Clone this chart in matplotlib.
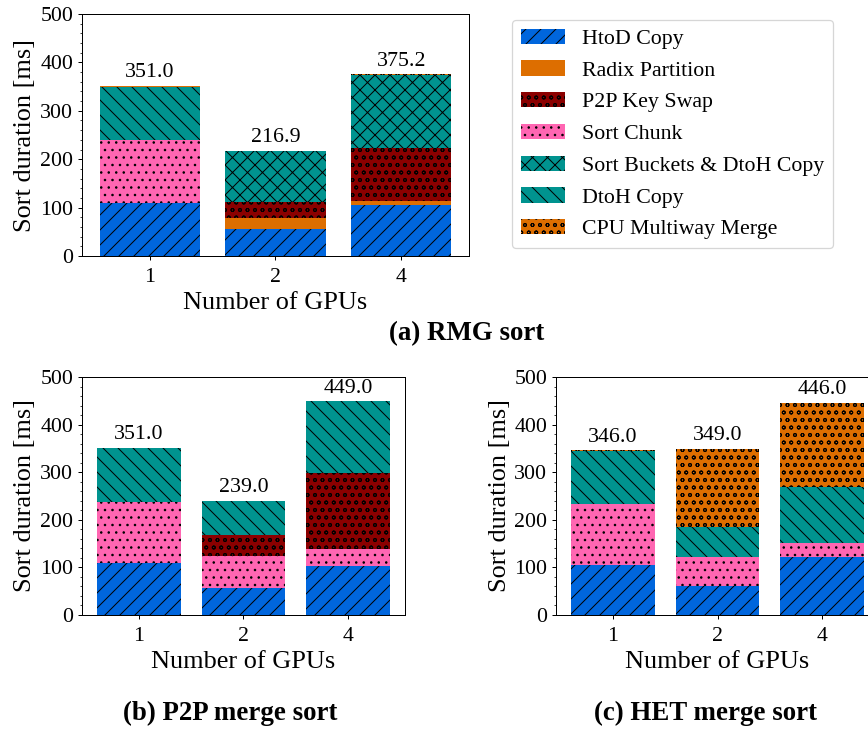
import matplotlib
matplotlib.use("Agg")
import matplotlib.pyplot as plt
from matplotlib.ticker import MultipleLocator
from matplotlib.patches import Patch
import numpy as np

plt.rcParams['font.family'] = ['Liberation Serif', 'DejaVu Serif']
plt.rcParams['hatch.linewidth'] = 0.8

gpus = ['1', '2', '4']

# series names (legend order)
names = ['HtoD Copy', 'Radix Partition', 'P2P Key Swap', 'Sort Chunk',
         'Sort Buckets & DtoH Copy', 'DtoH Copy', 'CPU Multiway Merge']

# (a) RMG sort
rmg_htod = [109, 55, 105]
rmg_radix = [0, 23, 9.5]
rmg_p2p = [0, 34.5, 109.5]
rmg_chunk = [130, 0, 0]
rmg_buckets = [0, 103.5, 150.5]
rmg_dtoh = [110.5, 0, 0]
rmg_cpu = [1.5, 0.9, 0.7]

# (b) P2P merge sort
p2p_htod = [110, 56, 102]
p2p_chunk = [128, 67, 36]
p2p_p2p = [0, 45, 160]
p2p_dtoh = [113, 71, 151]

# (c) HET merge sort
het_htod = [106, 60, 121]
het_chunk = [128, 62, 31]
het_dtoh = [109.5, 63, 117]
het_cpu = [2.5, 164, 177]

styles = {
    'HtoD Copy': ('#0066DD', '//'),
    'Radix Partition': ('#DD6E00', ''),
    'P2P Key Swap': ('#8B0000', 'oo'),
    'Sort Chunk': ('#FF66B2', '..'),
    'Sort Buckets & DtoH Copy': ('#00938F', 'xx'),
    'DtoH Copy': ('#00938F', '\\\\'),
    'CPU Multiway Merge': ('#DD6E00', 'oo'),
}

W, H = 868, 729
DPI = 90
fig = plt.figure(figsize=(W / DPI, H / DPI), dpi=DPI)

def pos(l, t, r, b):
    return [l / W, 1 - b / H, (r - l) / W, (b - t) / H]

ax_a = fig.add_axes(pos(82, 14, 469, 256))
ax_b = fig.add_axes(pos(82, 377, 405, 615))
ax_c = fig.add_axes(pos(556, 377, 879, 615))

panels = [
    (ax_a, [('HtoD Copy', rmg_htod), ('Radix Partition', rmg_radix),
            ('P2P Key Swap', rmg_p2p), ('Sort Chunk', rmg_chunk),
            ('Sort Buckets & DtoH Copy', rmg_buckets), ('DtoH Copy', rmg_dtoh),
            ('CPU Multiway Merge', rmg_cpu)]),
    (ax_b, [('HtoD Copy', p2p_htod), ('Sort Chunk', p2p_chunk),
            ('P2P Key Swap', p2p_p2p), ('DtoH Copy', p2p_dtoh)]),
    (ax_c, [('HtoD Copy', het_htod), ('Sort Chunk', het_chunk),
            ('DtoH Copy', het_dtoh), ('CPU Multiway Merge', het_cpu)]),
]

FS_TICK = 17.5
FS_BAR = 17.5
FS_LABEL = 21
FS_LEG = 17.5
FS_CAP = 21.5

for ax, segs in panels:
    x = np.arange(len(gpus))
    bottom = np.zeros(len(gpus))
    for name, vals in segs:
        c, h = styles[name]
        v = np.array(vals, dtype=float)
        ax.bar(x, v, 0.8, bottom=bottom, color=c, hatch=h,
               edgecolor='black', linewidth=0)
        bottom += v
    for xi, tot in zip(x, bottom):
        ax.annotate(f'{tot:.1f}', (xi, tot), xytext=(0, 3),
                    textcoords='offset points', ha='center', va='bottom',
                    fontsize=FS_BAR)
    ax.set_ylim(0, 500)
    ax.set_xticks(x)
    ax.set_xticklabels(gpus)
    ax.yaxis.set_major_locator(MultipleLocator(100))
    ax.yaxis.set_minor_locator(MultipleLocator(20))
    ax.tick_params(labelsize=FS_TICK)
    ax.tick_params(axis='x', pad=6)
    ax.set_xlabel('Number of GPUs', fontsize=FS_LABEL, labelpad=4)
    ax.set_ylabel('Sort duration [ms]', fontsize=FS_LABEL, labelpad=3)

handles = [Patch(facecolor=styles[n][0], hatch=styles[n][1],
                 edgecolor='black', linewidth=0, label=n) for n in names]
fig.legend(handles=handles, loc='upper left',
           bbox_to_anchor=(512 / W, 1 - 20 / H), borderaxespad=0,
           fontsize=FS_LEG, handlelength=2.0, handletextpad=0.8,
           labelspacing=0.52)

fig.text(467 / W, 1 - 334 / H, '(a) RMG sort', ha='center', va='center',
         fontsize=FS_CAP, fontweight='bold')
fig.text(230 / W, 1 - 713 / H, '(b) P2P merge sort', ha='center', va='center',
         fontsize=FS_CAP, fontweight='bold')
fig.text(705 / W, 1 - 713 / H, '(c) HET merge sort', ha='center', va='center',
         fontsize=FS_CAP, fontweight='bold')

fig.savefig('out.png', dpi=DPI)
